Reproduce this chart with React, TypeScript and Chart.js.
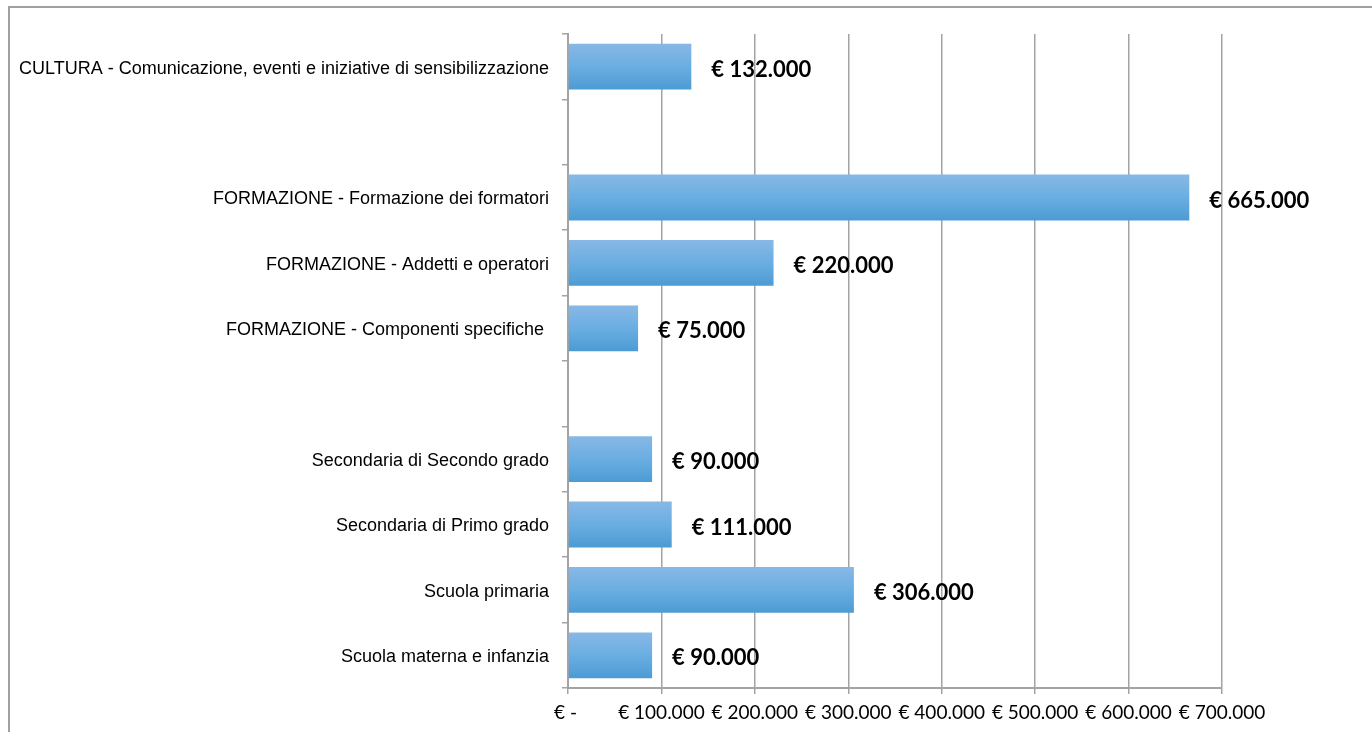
import React, { useEffect, useRef } from "react";
import { Chart, registerables } from "chart.js";

Chart.register(...registerables);

const categories: string[] = [
  "CULTURA - Comunicazione, eventi e iniziative di sensibilizzazione",
  "",
  "FORMAZIONE - Formazione dei formatori",
  "FORMAZIONE - Addetti e operatori",
  "FORMAZIONE - Componenti specifiche ",
  "",
  "Secondaria di Secondo grado",
  "Secondaria di Primo grado",
  "Scuola primaria",
  "Scuola materna e infanzia",
];

const values: (number | null)[] = [132000, null, 665000, 220000, 75000, null, 90000, 111000, 306000, 90000];

const xMax = 700000;
const xStep = 100000;

const fmt = (n: number) => n.toString().replace(/\B(?=(\d{3})+(?!\d))/g, ".");
const euro = (n: number) => (n === 0 ? "€ - " : "€ " + fmt(n));

const GRID = "#a3a3a3";

const borderPlugin = {
  id: "outerBorder",
  beforeDraw(chart: any) {
    const ctx = chart.ctx;
    ctx.save();
    ctx.fillStyle = "#ffffff";
    ctx.fillRect(0, 0, chart.width, chart.height);
    ctx.strokeStyle = "#a0a0a0";
    ctx.lineWidth = 2;
    ctx.beginPath();
    ctx.moveTo(9, chart.height + 5);
    ctx.lineTo(9, 7);
    ctx.lineTo(chart.width + 5, 7);
    ctx.stroke();
    ctx.restore();
  },
};

const labelPlugin = {
  id: "valueLabels",
  afterDatasetsDraw(chart: any) {
    const ctx = chart.ctx;
    const meta = chart.getDatasetMeta(0);
    ctx.save();
    ctx.font = "bold 22px Lato, 'Open Sans', sans-serif";
    ctx.fillStyle = "#000000";
    ctx.textAlign = "left";
    ctx.textBaseline = "middle";
    meta.data.forEach((el: any, i: number) => {
      const v = values[i];
      if (v === null || v === undefined) return;
      ctx.fillText(euro(v), el.x + 20, el.y + 3);
    });
    ctx.restore();
  },
};

export default function App() {
  const ref = useRef<HTMLCanvasElement | null>(null);

  useEffect(() => {
    if (!ref.current) return;
    const chart = new Chart(ref.current, {
      type: "bar",
      data: {
        labels: categories,
        datasets: [
          {
            data: values as any,
            backgroundColor: (c: any) => {
              const ch = c.chart;
              const ys = ch.scales && ch.scales.y;
              if (!ys || !ch.chartArea) return "#65a8de";
              const yc = ys.getPixelForValue(c.dataIndex);
              const h = 23;
              const g = ch.ctx.createLinearGradient(0, yc - h, 0, yc + h);
              g.addColorStop(0, "#88b8e5");
              g.addColorStop(0.5, "#6aaee2");
              g.addColorStop(1, "#4c9bd4");
              return g;
            },
            borderWidth: 0,
            categoryPercentage: 1,
            barPercentage: 0.7,
          },
        ],
      },
      options: {
        indexAxis: "y",
        animation: false,
        responsive: false,
        maintainAspectRatio: false,
        layout: { padding: { top: 34, right: 150, bottom: 0, left: 0 } },
        plugins: {
          legend: { display: false },
          tooltip: { enabled: false },
        },
        scales: {
          x: {
            min: 0,
            max: xMax,
            afterFit: (s: any) => {
              s.height = 44;
            },
            ticks: {
              stepSize: xStep,
              padding: 7,
              color: "#000000",
              font: { family: "Lato, 'Open Sans', sans-serif", size: 19 },
              callback: (v: any) => euro(Number(v)),
              maxRotation: 0,
              autoSkip: false,
            },
            grid: {
              color: GRID,
              lineWidth: 1.5,
              tickLength: 6,
              drawTicks: true,
            },
            border: { color: GRID, width: 2 },
          },
          y: {
            afterFit: (s: any) => {
              s.width = 568;
            },
            ticks: {
              padding: 13,
              labelOffset: 2,
              color: "#000000",
              font: { family: "'Liberation Sans', Arial, sans-serif", size: 18 },
              autoSkip: false,
            },
            grid: {
              display: true,
              drawOnChartArea: false,
              drawTicks: true,
              tickLength: 6,
              color: GRID,
              lineWidth: 1.5,
              offset: true,
            },
            border: { color: GRID, width: 2 },
          },
        },
      },
      plugins: [borderPlugin, labelPlugin],
    });
    return () => chart.destroy();
  }, []);

  return (
    <div style={{ position: "fixed", left: 0, top: 0, width: 1372, height: 732 }}>
      <canvas ref={ref} width={1372} height={732} style={{ width: 1372, height: 732, display: "block" }} />
    </div>
  );
}
